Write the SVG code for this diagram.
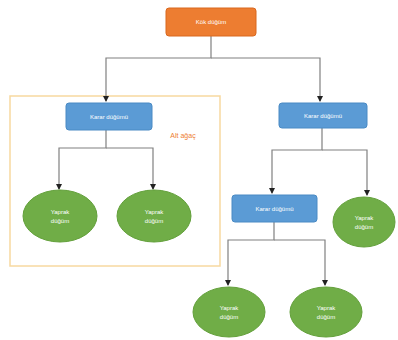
<svg xmlns="http://www.w3.org/2000/svg" width="398" height="340" viewBox="0 0 398 340">
<defs>
<style>
.ln{fill:none;stroke:#808080;stroke-width:1.2}
.root{fill:#ED7D31;stroke:#D9681E;stroke-width:1}
.dec{fill:#5B9BD5;stroke:#4A8AC4;stroke-width:1}
.leaf{fill:#70AD47;stroke:#63A03B;stroke-width:1}
.t{font-family:"Liberation Sans",Arial,sans-serif;font-size:6px;fill:#ffffff;text-anchor:middle}
</style>
<marker id="ah" viewBox="0 0 6 6" refX="5" refY="3" markerWidth="5" markerHeight="5" orient="auto">
<path d="M0,0 L6,3 L0,6 z" fill="#222"/>
</marker>
</defs>
<rect width="398" height="340" fill="#ffffff"/>
<rect id="subtree" x="10" y="96" width="210" height="170" fill="none" stroke="#F7D9A0" stroke-width="1.5"/>
<text x="183" y="138" font-family="'Liberation Sans',Arial,sans-serif" font-size="7" fill="#ED7D31" text-anchor="middle">Alt ağaç</text>
<g id="connectors">
<path class="ln" d="M211,36 V58 H106 V101" marker-end="url(#ah)"/>
<path class="ln" d="M211,58 H320 V101" marker-end="url(#ah)"/>
<path class="ln" d="M106,130 V148 H59 V189" marker-end="url(#ah)"/>
<path class="ln" d="M106,148 H153 V189" marker-end="url(#ah)"/>
<path class="ln" d="M322,128 V150 H272 V193" marker-end="url(#ah)"/>
<path class="ln" d="M322,150 H367 V195" marker-end="url(#ah)"/>
<path class="ln" d="M274,222 V240 H228 V285" marker-end="url(#ah)"/>
<path class="ln" d="M274,240 H325 V285" marker-end="url(#ah)"/>
</g>
<g id="root"><rect class="root" x="166" y="8" width="90" height="28" rx="3"/><text class="t" x="211" y="24">Kök düğüm</text></g>
<g id="dec1"><rect class="dec" x="66" y="103" width="86" height="27" rx="3"/><text class="t" x="109" y="118.5">Karar düğümü</text></g>
<g id="dec2"><rect class="dec" x="279" y="103" width="88" height="25" rx="3"/><text class="t" x="323" y="117.5">Karar düğümü</text></g>
<g id="dec3"><rect class="dec" x="232" y="195" width="85" height="27" rx="3"/><text class="t" x="274.5" y="210.5">Karar düğümü</text></g>
<g id="leaf1"><ellipse class="leaf" cx="60" cy="216" rx="37" ry="26"/><text class="t" x="60" y="214">Yaprak</text><text class="t" x="60" y="223">düğüm</text></g>
<g id="leaf2"><ellipse class="leaf" cx="154" cy="216" rx="37" ry="26"/><text class="t" x="154" y="214">Yaprak</text><text class="t" x="154" y="223">düğüm</text></g>
<g id="leaf3"><ellipse class="leaf" cx="364" cy="222" rx="31" ry="25"/><text class="t" x="364" y="220">Yaprak</text><text class="t" x="364" y="229">düğüm</text></g>
<g id="leaf4"><ellipse class="leaf" cx="229" cy="312" rx="36" ry="25"/><text class="t" x="229" y="310">Yaprak</text><text class="t" x="229" y="319">düğüm</text></g>
<g id="leaf5"><ellipse class="leaf" cx="326" cy="312" rx="36" ry="25"/><text class="t" x="326" y="310">Yaprak</text><text class="t" x="326" y="319">düğüm</text></g>
</svg>
